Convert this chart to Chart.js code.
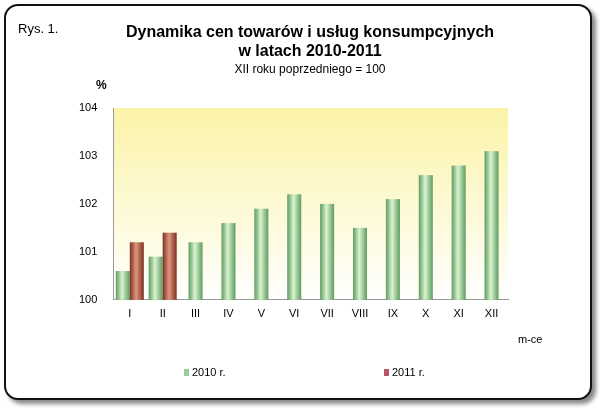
<!DOCTYPE html>
<html><head><meta charset="utf-8">
<script src="https://cdn.jsdelivr.net/npm/chart.js@4/dist/chart.umd.min.js"></script>
<style>
body{margin:0;background:#fff;font-family:"Liberation Sans",Arial,sans-serif;}
#frame{position:absolute;left:4px;top:4px;width:584px;height:392px;border:2px solid #111;border-radius:14px;box-shadow:4px 4px 4px #888;background:#fff;}
.t{position:absolute;color:#000;white-space:nowrap;}
#c{position:absolute;left:0;top:0;}
</style></head><body>
<div id="frame"></div>
<canvas id="c" width="600" height="408"></canvas>
<div class="t" style="left:18px;top:21px;font-size:13px;">Rys. 1.</div>
<div class="t" style="left:0;width:620px;text-align:center;top:22px;font-size:16px;font-weight:bold;line-height:19px;">Dynamika cen towarów i usług konsumpcyjnych<br>w latach 2010-2011</div>
<div class="t" style="left:0;width:620px;text-align:center;top:62px;font-size:12px;">XII roku poprzedniego = 100</div>
<div class="t" style="left:96px;top:78px;font-size:12px;font-weight:bold;">%</div>
<div class="t" style="left:518px;top:333px;font-size:11px;">m-ce</div>
<div class="t" style="left:184px;top:366px;font-size:11px;"><span style="display:inline-block;width:5px;height:7px;background:#9c9;margin-right:3px;"></span>2010 r.</div>
<div class="t" style="left:384px;top:366px;font-size:11px;"><span style="display:inline-block;width:5px;height:7px;background:#b56;margin-right:3px;"></span>2011 r.</div>
<script>
const categories=["I","II","III","IV","V","VI","VII","VIII","IX","X","XI","XII"];
const values2010=[100.6,100.9,101.2,101.6,101.9,102.2,102.0,101.5,102.1,102.6,102.8,103.1];
const values2011=[101.2,101.4,null,null,null,null,null,null,null,null,null,null];
const yTicks=[100,101,102,103,104];
const bgPlugin={id:'bg',beforeDraw(ch){const a=ch.chartArea,x=ch.ctx;const g=x.createLinearGradient(0,a.top,0,a.bottom);g.addColorStop(0,'#fbf3a8');g.addColorStop(1,'#ffffff');x.save();x.fillStyle=g;x.fillRect(a.left,a.top,a.right-a.left,a.bottom-a.top);x.restore();}};
const cyl={id:'cyl',afterDatasetsDraw(ch){const x=ch.ctx,a=ch.chartArea;const cols=[['#5f9a5f','#d8f5d0'],['#7a3020','#e0967e']];
ch.data.datasets.forEach((d,i)=>{ch.getDatasetMeta(i).data.forEach((b,j)=>{if(d.data[j]==null)return;const l=b.x-b.width/2,r=b.x+b.width/2;const bot=Math.min(b.base,a.bottom);const g=x.createLinearGradient(l,0,r,0);g.addColorStop(0,cols[i][0]);g.addColorStop(0.45,cols[i][1]);g.addColorStop(1,cols[i][0]);x.fillStyle=g;x.fillRect(l,b.y,b.width,bot-b.y);});});}};
new Chart(document.getElementById('c'),{type:'bar',
data:{labels:categories,datasets:[
{data:values2010,backgroundColor:'rgba(0,0,0,0)',barThickness:14,skipNull:true},
{data:values2011,backgroundColor:'rgba(0,0,0,0)',barThickness:14,skipNull:true}]},
options:{responsive:false,animation:false,
layout:{padding:{left:71,right:92,top:108,bottom:79}},
plugins:{legend:{display:false},tooltip:{enabled:false}},
scales:{x:{grid:{display:false,drawTicks:false},border:{color:'#999'},ticks:{color:'#000',font:{size:11,family:'Liberation Sans'},padding:8}},
y:{min:100,max:104,afterBuildTicks:s=>{s.ticks=yTicks.map(v=>({value:v}));},grid:{display:false},border:{color:'#999'},ticks:{color:'#000',font:{size:11,family:'Liberation Sans'},padding:8}}}},
plugins:[bgPlugin,cyl]});
</script></body></html>
